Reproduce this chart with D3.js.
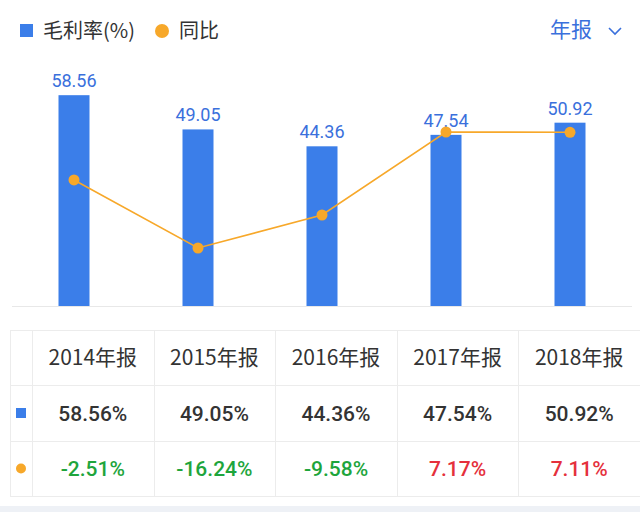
<!DOCTYPE html>
<html><head><meta charset="utf-8">
<script src="https://cdn.jsdelivr.net/npm/d3@7"></script>
<style>
html,body{margin:0;padding:0;background:#fff;}
svg{display:block;}
</style></head>
<body>
<svg id="chart" width="640" height="512"></svg>
<script>
const categories = ["2014年报","2015年报","2016年报","2017年报","2018年报"];
const grossMargin = [58.56, 49.05, 44.36, 47.54, 50.92];
const yoy = [-2.51, -16.24, -9.58, 7.17, 7.11];
const legendLabels = ["毛利率(%)", "同比"];
const periodLabel = "年报";

const BLUE = "#3b7ee9", ORANGE = "#f7a82a", LABEL_BLUE = "#3a70dc";
const GREEN = "#1ea53c", RED = "#e5303c", TEXT = "#333";
const CJK = "'Noto Sans CJK SC', 'Noto Sans', sans-serif";
const NUM = "Roboto, 'Noto Sans', sans-serif";

const svg = d3.select("#chart");

// Legend
svg.append("rect").attr("x", 20).attr("y", 24).attr("width", 13).attr("height", 13).attr("fill", BLUE);
svg.append("text").attr("x", 43).attr("y", 38).attr("font-family", CJK).attr("font-size", 20).attr("fill", TEXT).text(legendLabels[0]);
svg.append("circle").attr("cx", 162).attr("cy", 31).attr("r", 7).attr("fill", ORANGE);
svg.append("text").attr("x", 179).attr("y", 38).attr("font-family", CJK).attr("font-size", 20).attr("fill", TEXT).text(legendLabels[1]);
svg.append("text").attr("x", 550).attr("y", 37).attr("font-family", CJK).attr("font-size", 21).attr("fill", LABEL_BLUE).text(periodLabel);
svg.append("path").attr("d", "M609,28 L615,34 L621,28").attr("fill", "none").attr("stroke", LABEL_BLUE).attr("stroke-width", 1.6);

// Scales
const x = d3.scaleBand().domain(categories).range([12, 632]).padding(0);
const y = d3.scaleLinear().domain([0, 60]).range([306, 90]);
const y2 = d3.scaleLinear().domain([-16.24, 7.17]).range([248, 132]);
const cx = d => x(d) + x.bandwidth() / 2;
const barW = x.bandwidth() * 0.25;

// baseline
svg.append("line").attr("x1", 12).attr("x2", 632).attr("y1", 306.5).attr("y2", 306.5).attr("stroke", "#e8e8e8").attr("stroke-width", 1);

// Bars
svg.append("g").selectAll("rect").data(categories).join("rect")
  .attr("x", d => cx(d) - barW / 2)
  .attr("y", (d, i) => y(grossMargin[i]))
  .attr("width", barW)
  .attr("height", (d, i) => y(0) - y(grossMargin[i]))
  .attr("fill", BLUE);

// Bar labels
svg.append("g").selectAll("text").data(categories).join("text")
  .attr("x", d => cx(d))
  .attr("y", (d, i) => y(grossMargin[i]) - 8)
  .attr("text-anchor", "middle")
  .attr("font-family", NUM).attr("font-size", 18).attr("font-weight", 400)
  .attr("fill", LABEL_BLUE)
  .text((d, i) => grossMargin[i].toFixed(2));

// Line
const line = d3.line().x(d => cx(d)).y((d, i) => y2(yoy[i]));
svg.append("path").datum(categories).attr("d", line).attr("fill", "none").attr("stroke", ORANGE).attr("stroke-width", 1.6);
svg.append("g").selectAll("circle").data(categories).join("circle")
  .attr("cx", d => cx(d)).attr("cy", (d, i) => y2(yoy[i])).attr("r", 5.5).attr("fill", ORANGE);

// Table
const tLeft = 10, tRight = 640, firstCol = 32, rowTops = [330, 385, 441, 496];
const colX = d3.scaleBand().domain(categories).range([firstCol, firstCol + 5 * 121.6]);
const tg = svg.append("g");
const BORDER = "#ececec";
rowTops.forEach(yy => tg.append("line").attr("x1", tLeft).attr("x2", tRight).attr("y1", yy + 0.5).attr("y2", yy + 0.5).attr("stroke", BORDER));
tg.append("line").attr("x1", tLeft + 0.5).attr("x2", tLeft + 0.5).attr("y1", rowTops[0]).attr("y2", rowTops[3]).attr("stroke", BORDER);
tg.append("line").attr("x1", firstCol + 0.5).attr("x2", firstCol + 0.5).attr("y1", rowTops[0]).attr("y2", rowTops[3]).attr("stroke", BORDER);
categories.forEach(c => {
  const xx = Math.round(colX(c) + colX.bandwidth()) + 0.5;
  tg.append("line").attr("x1", xx).attr("x2", xx).attr("y1", rowTops[0]).attr("y2", rowTops[3]).attr("stroke", BORDER);
});
const rowMid = i => (rowTops[i] + rowTops[i + 1]) / 2;
const colMid = c => colX(c) + colX.bandwidth() / 2;

tg.selectAll("text.h").data(categories).join("text").attr("class", "h")
  .attr("x", d => colMid(d)).attr("y", rowMid(0)).attr("dy", "0.36em")
  .attr("text-anchor", "middle").attr("font-family", CJK).attr("font-size", 21).attr("fill", TEXT)
  .text(d => d);

tg.append("rect").attr("x", 16).attr("y", rowMid(1) - 5).attr("width", 10).attr("height", 10).attr("fill", BLUE);
tg.append("circle").attr("cx", 21).attr("cy", rowMid(2)).attr("r", 5).attr("fill", ORANGE);

tg.selectAll("text.v").data(categories).join("text").attr("class", "v")
  .attr("x", d => colMid(d)).attr("y", rowMid(1)).attr("dy", "0.36em")
  .attr("text-anchor", "middle").attr("font-family", NUM).attr("font-size", 21).attr("font-weight", 500).attr("fill", TEXT)
  .text((d, i) => grossMargin[i].toFixed(2) + "%");

tg.selectAll("text.y").data(categories).join("text").attr("class", "y")
  .attr("x", d => colMid(d)).attr("y", rowMid(2)).attr("dy", "0.36em")
  .attr("text-anchor", "middle").attr("font-family", NUM).attr("font-size", 21).attr("font-weight", 500)
  .attr("fill", (d, i) => yoy[i] < 0 ? GREEN : RED)
  .text((d, i) => yoy[i].toFixed(2) + "%");

// bottom band
svg.append("rect").attr("x", 0).attr("y", 506).attr("width", 640).attr("height", 6).attr("fill", "#eef1f6");
</script>
</body></html>
